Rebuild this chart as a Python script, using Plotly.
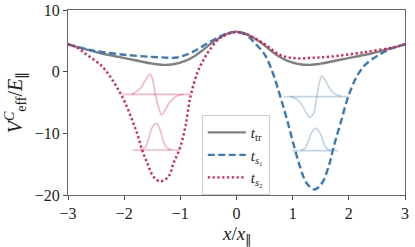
import plotly.graph_objects as go

# ---- data ----
x_tr = [-3, -2.7, -2.4, -2.1, -1.8, -1.5, -1.3, -1.1, -0.9, -0.75, -0.6, -0.45, -0.3, -0.15, 0,
        0.15, 0.3, 0.45, 0.6, 0.75, 0.9, 1.1, 1.3, 1.5, 1.8, 2.1, 2.4, 2.7, 3]
y_tr = [4.44, 3.65, 2.95, 2.4, 1.85, 1.3, 1.1, 1.25, 1.8, 2.5, 3.5, 4.6, 5.5, 6.2, 6.5,
        6.2, 5.5, 4.6, 3.5, 2.5, 1.8, 1.25, 1.1, 1.3, 1.85, 2.4, 2.95, 3.65, 4.44]

x_s1 = [-3, -2.54, -1.95, -1.36, -1.06, -0.77, -0.47, -0.17, 0, 0.17, 0.33, 0.5, 0.65, 0.78, 0.9,
        1.01, 1.13, 1.25, 1.39, 1.52, 1.64, 1.73, 1.85, 1.99, 2.14, 2.29, 2.53, 2.77, 3.0]
y_s1 = [4.44, 3.4, 2.7, 2.33, 2.3, 3.24, 4.86, 6.2, 6.45, 6.0, 4.6, 2.8, -0.3, -4.05, -7.8,
        -11.6, -15.4, -18.1, -19.1, -18.1, -15.4, -12.2, -8.4, -4.05, -0.8, 1.09, 2.7, 3.8, 4.44]

x_s2 = [-3, -2.86, -2.66, -2.42, -2.25, -2.1, -1.98, -1.86, -1.77, -1.68, -1.59, -1.48, -1.36, -1.21,
        -1.12, -1.0, -0.91, -0.82, -0.7, -0.59, -0.48, -0.3, -0.12, 0, 0.17, 0.48, 0.78, 1.07,
        1.37, 1.67, 2.26, 2.85, 3]
y_s2 = [4.44, 4.0, 2.7, 1.09, -0.8, -2.97, -5.1, -7.8, -10.0, -12.7, -14.8, -17.0, -17.8, -17.0,
        -14.8, -12.2, -8.9, -4.05, -0.26, 1.9, 3.5, 5.4, 6.2, 6.4, 6.1, 4.6, 2.7, 2.17,
        2.27, 2.43, 3.13, 4.05, 4.44]

# energy levels (x start, x end, energy)
lvl_left = [(-2.04, -0.81, -3.68), (-1.85, -1.0, -12.7)]
lvl_right = [(0.84, 2.0, -4.05), (0.99, 1.81, -12.8)]

# wavefunctions, left well
wl1_x = [-1.86, -1.71, -1.62, -1.54, -1.49, -1.45, -1.39, -1.33, -1.27, -1.18, -1.06, -0.94]
wl1_y = [-3.66, -2.69, -1.35, -0.37, -1.35, -3.5, -5.67, -7.0, -6.2, -4.86, -3.94, -3.7]
wl0_x = [-1.71, -1.62, -1.57, -1.51, -1.43, -1.37, -1.31, -1.25, -1.16]
wl0_y = [-12.7, -12.26, -11.07, -9.2, -8.37, -9.2, -11.07, -12.26, -12.7]
# wavefunctions, right well
wr1_x = [0.955, 1.075, 1.164, 1.24, 1.31, 1.37, 1.43, 1.46, 1.52, 1.58, 1.655, 1.756, 1.875]
wr1_y = [-4.05, -4.48, -5.4, -6.64, -7.4, -6.75, -4.05, -2.43, -0.7, -1.35, -2.7, -3.62, -4.0]
wr0_x = [1.14, 1.22, 1.27, 1.33, 1.41, 1.49, 1.55, 1.60, 1.68]
wr0_y = [-12.8, -12.45, -11.5, -10.0, -9.2, -10.0, -11.5, -12.45, -12.8]

x_ticks = [-3, -2, -1, 0, 1, 2, 3]
y_ticks = [-20, -10, 0, 10]

RED = "#e6194b"
BLUE = "#3b7bb5"
GRAY = "#808080"
PINK = "rgba(230,25,75,0.32)"
LBLUE = "rgba(59,123,181,0.32)"
SERIF = "Liberation Serif, Times New Roman, serif"

fig = go.Figure()

for (a, b, e) in lvl_left:
    fig.add_trace(go.Scatter(x=[a, b], y=[e, e], mode="lines", line=dict(color=PINK, width=1.6),
                             showlegend=False, hoverinfo="skip"))
for (a, b, e) in lvl_right:
    fig.add_trace(go.Scatter(x=[a, b], y=[e, e], mode="lines", line=dict(color=LBLUE, width=1.6),
                             showlegend=False, hoverinfo="skip"))
for xs, ys, c in [(wl1_x, wl1_y, PINK), (wl0_x, wl0_y, PINK), (wr1_x, wr1_y, LBLUE), (wr0_x, wr0_y, LBLUE)]:
    fig.add_trace(go.Scatter(x=xs, y=ys, mode="lines", line=dict(color=c, width=1.6, shape="spline"),
                             showlegend=False, hoverinfo="skip"))

fig.add_trace(go.Scatter(x=x_tr, y=y_tr, mode="lines", name="<i>t</i><sub>tr</sub>",
                         line=dict(color=GRAY, width=2.4, shape="spline")))
fig.add_trace(go.Scatter(x=x_s1, y=y_s1, mode="lines", name="<i>t</i><sub><i>s</i>₁</sub>",
                         line=dict(color=BLUE, width=2.4, shape="spline", dash="7px,3.5px")))
fig.add_trace(go.Scatter(x=x_s2, y=y_s2, mode="lines", name="<i>t</i><sub><i>s</i>₂</sub>",
                         line=dict(color=RED, width=2.4, shape="spline", dash="2.2px,2.6px")))

axis_common = dict(showline=True, mirror=True, linecolor="#666666", linewidth=1.2,
                   ticks="outside", ticklen=4, tickwidth=1.2, tickcolor="#444444",
                   showgrid=False, zeroline=False, automargin=False,
                   tickfont=dict(family=SERIF, size=16, color="#222222"))

fig.update_layout(
    width=415, height=247,
    margin=dict(l=68, r=10, t=10, b=52, autoexpand=False),
    paper_bgcolor="white", plot_bgcolor="white",
    font=dict(family=SERIF, color="#222222"),
    xaxis=dict(range=[-3, 3], tickvals=x_ticks, **axis_common),
    yaxis=dict(range=[-20, 10], tickvals=y_ticks,
               title=dict(text="<i>V</i><sup><i>C</i></sup><sub>eff</sub>/<i>E</i><sub>∥</sub>",
                          font=dict(family=SERIF, size=20), standoff=6),
               **axis_common),
    legend=dict(x=0.397, y=0.432, xanchor="left", yanchor="top",
                bgcolor="rgba(255,255,255,0.9)", bordercolor="#cccccc", borderwidth=1,
                font=dict(family=SERIF, size=15, color="#222222"),
                itemwidth=38, tracegroupgap=0),
    annotations=[dict(text="<i>x</i>/<i>x</i><sub>∥</sub>", xref="paper", yref="paper",
                      x=0.5, y=-0.215, xanchor="center", yanchor="middle", showarrow=False,
                      font=dict(family=SERIF, size=19, color="#222222"))],
)

fig.write_html("out.html", config={"displayModeBar": False},
               post_script="document.body.style.margin='0';document.body.style.padding='0';")
